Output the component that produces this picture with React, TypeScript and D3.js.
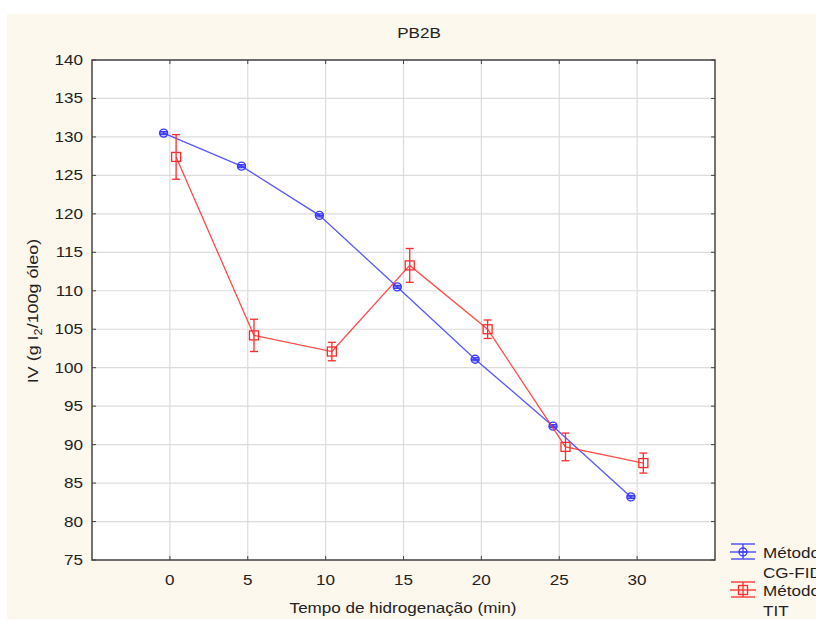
import React from 'react'
import * as d3 from 'd3'

// tempo de hidrogenação (min)
const tempos = [0, 5, 10, 15, 20, 25, 30]
// IV por método CG-FID (com pequeno deslocamento no eixo x)
const ivCG = [130.5, 126.2, 119.8, 110.5, 101.1, 92.4, 83.2]
const errCG = [0.2, 0.2, 0.2, 0.2, 0.2, 0.2, 0.2]
// IV por método TIT
const ivTIT = [127.4, 104.2, 102.1, 113.3, 105.0, 89.7, 87.6]
const errTIT = [2.9, 2.1, 1.2, 2.2, 1.2, 1.8, 1.3]

const xTicks = [0, 5, 10, 15, 20, 25, 30]
const yTicks = [75, 80, 85, 90, 95, 100, 105, 110, 115, 120, 125, 130, 135, 140]

const W = 816
const H = 621
const plot = { left: 92, right: 715, top: 60, bottom: 560 }
const FONT = '"Liberation Sans", Arial, sans-serif'
const SX = 1.22 // texto um pouco esticado na horizontal, como no original

const BLUE = '#3b3bff'
const RED = '#ff2a2a'

function Txt(props: { x: number, y: number, anchor?: string, children: React.ReactNode }) {
  return (
    <text transform={`translate(${props.x},${props.y}) scale(${SX},1)`}
      textAnchor={props.anchor || 'start'} fontSize={14} fill="#222">
      {props.children}
    </text>
  )
}

export default function App() {
  const x = d3.scaleLinear().domain([-5, 35]).range([plot.left, plot.right])
  const y = d3.scaleLinear().domain([75, 140]).range([plot.bottom, plot.top])

  const series = [
    { name: 'CG-FID', vals: ivCG, errs: errCG, shift: -0.4, color: BLUE, marker: 'circle' },
    { name: 'TIT', vals: ivTIT, errs: errTIT, shift: 0.4, color: RED, marker: 'square' },
  ]

  const line = d3.line<[number, number]>()
    .x(d => x(d[0]))
    .y(d => y(d[1]))

  const marker = (kind: string, cx: number, cy: number, color: string) =>
    kind === 'circle'
      ? <g>
          <circle cx={cx} cy={cy} r={4} fill="none" stroke={color} strokeWidth={1.4} />
          <line x1={cx - 4} x2={cx + 4} y1={cy} y2={cy} stroke={color} strokeWidth={1.4} />
        </g>
      : <rect x={cx - 4.5} y={cy - 4.5} width={9} height={9} fill="none" stroke={color} strokeWidth={1.3} />

  return (
    <svg width={W} height={H} style={{ position: 'absolute', left: 0, top: 0 }} fontFamily={FONT}>
      <rect x={0} y={0} width={W} height={H} fill="#ffffff" />
      <rect x={7} y={14} width={W - 7} height={605} fill="#fdf8ee" />
      <rect x={plot.left} y={plot.top} width={plot.right - plot.left} height={plot.bottom - plot.top} fill="#ffffff" />

      {/* grid */}
      {xTicks.map(t => (
        <line key={'gx' + t} x1={x(t)} x2={x(t)} y1={plot.top} y2={plot.bottom} stroke="#dcdcdc" strokeWidth={1.2} />
      ))}
      {yTicks.map(t => (
        <line key={'gy' + t} x1={plot.left} x2={plot.right} y1={y(t)} y2={y(t)} stroke="#dcdcdc" strokeWidth={1.2} />
      ))}

      {/* ticks on frame */}
      {xTicks.map(t => (
        <g key={'tx' + t}>
          <line x1={x(t)} x2={x(t)} y1={plot.bottom} y2={plot.bottom - 4} stroke="#444" />
          <line x1={x(t)} x2={x(t)} y1={plot.top} y2={plot.top + 4} stroke="#444" />
          <Txt x={x(t)} y={plot.bottom + 25} anchor="middle">{t}</Txt>
        </g>
      ))}
      {yTicks.map(t => (
        <g key={'ty' + t}>
          <line x1={plot.left} x2={plot.left + 4} y1={y(t)} y2={y(t)} stroke="#444" />
          <line x1={plot.right} x2={plot.right - 4} y1={y(t)} y2={y(t)} stroke="#444" />
          <Txt x={plot.left - 9} y={y(t) + 5} anchor="end">{t}</Txt>
        </g>
      ))}

      <rect x={plot.left} y={plot.top} width={plot.right - plot.left} height={plot.bottom - plot.top}
        fill="none" stroke="#444" strokeWidth={1.5} />

      {/* series */}
      {series.map(s => {
        const pts: [number, number][] = tempos.map((t, i) => [t + s.shift, s.vals[i]])
        return (
          <g key={s.name}>
            <path d={line(pts) || ''} fill="none" stroke={s.color} strokeWidth={1.3} strokeOpacity={0.85} />
            {pts.map((p, i) => {
              const cx = x(p[0])
              const lo = y(s.vals[i] - s.errs[i])
              const hi = y(s.vals[i] + s.errs[i])
              return (
                <g key={i}>
                  <line x1={cx} x2={cx} y1={lo} y2={hi} stroke={s.color} strokeWidth={1.3} />
                  <line x1={cx - 4} x2={cx + 4} y1={lo} y2={lo} stroke={s.color} strokeWidth={1.3} />
                  <line x1={cx - 4} x2={cx + 4} y1={hi} y2={hi} stroke={s.color} strokeWidth={1.3} />
                  {marker(s.marker, cx, y(p[1]), s.color)}
                </g>
              )
            })}
          </g>
        )
      })}

      {/* titles */}
      <Txt x={419} y={38} anchor="middle">PB2B</Txt>
      <Txt x={403} y={613} anchor="middle">Tempo de hidrogenação (min)</Txt>
      <text transform={`translate(38, ${311}) rotate(-90) scale(1.28,1.1)`} textAnchor="middle" fontSize={14} fill="#222">
        IV (g I<tspan fontSize={10} dy={4}>2</tspan><tspan dy={-4}>/100g óleo)</tspan>
      </text>

      {/* legend */}
      {series.map((s, i) => {
        const ly = 552 + i * 38
        const lx = 743
        return (
          <g key={'lg' + s.name}>
            <line x1={lx - 13} x2={lx + 13} y1={ly} y2={ly} stroke={s.color} strokeWidth={1.3} />
            <line x1={lx - 12} x2={lx + 12} y1={ly - 8} y2={ly - 8} stroke={s.color} strokeWidth={1.3} />
            <line x1={lx - 12} x2={lx + 12} y1={ly + 7} y2={ly + 7} stroke={s.color} strokeWidth={1.3} />
            <line x1={lx} x2={lx} y1={ly - 8} y2={ly + 7} stroke={s.color} strokeWidth={1.3} />
            {marker(s.marker, lx, ly, s.color)}
            <Txt x={763} y={ly + 6}>Método</Txt>
            <Txt x={763} y={ly + 26}>{s.name}</Txt>
          </g>
        )
      })}
    </svg>
  )
}
